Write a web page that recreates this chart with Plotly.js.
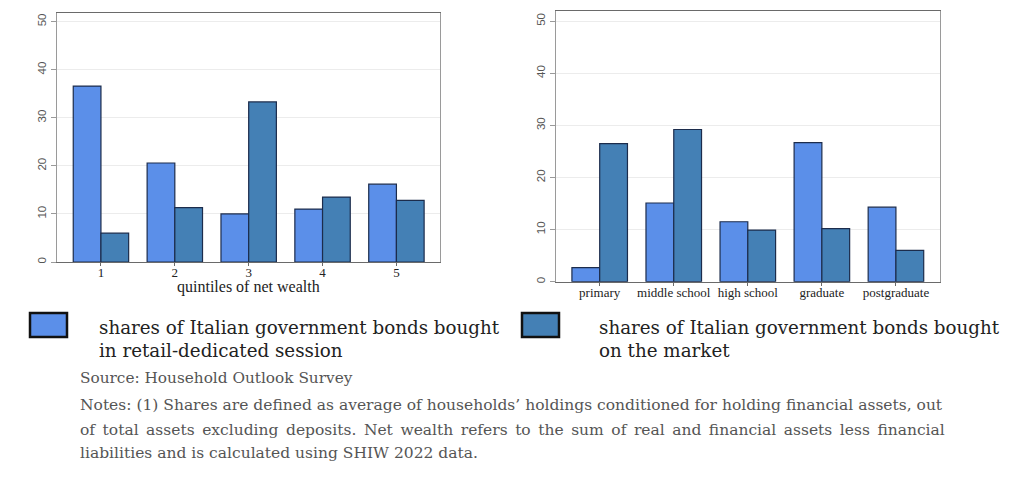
<!DOCTYPE html>
<html>
<head>
<meta charset="utf-8">
<script src="https://cdn.plot.ly/plotly-3.0.1.min.js"></script>
<style>
  html, body { margin: 0; padding: 0; background: #fff; }
  #plot { width: 1024px; height: 480px; }
</style>
</head>
<body>
<div id="plot"></div>
<script>
// values (percent)
const wealthQuintiles = ['1', '2', '3', '4', '5'];
const wealthRetail = [36.6, 20.6, 10.0, 11.0, 16.2];
const wealthMarket = [6.0, 11.3, 33.3, 13.5, 12.8];

const eduLevels = ['primary', 'middle school', 'high school', 'graduate', 'postgraduate'];
const eduRetail = [2.7, 15.1, 11.5, 26.7, 14.3];
const eduMarket = [26.5, 29.2, 9.9, 10.2, 6.0];

const yTicks = [0, 10, 20, 30, 40, 50];

const retailName = 'shares of Italian government bonds bought in retail-dedicated session';
const marketName = 'shares of Italian government bonds bought on the market';
const sourceText = 'Source: Household Outlook Survey';
const noteLines = [
    'Notes: (1) Shares are defined as average of households\u2019 holdings conditioned for holding financial assets, out',
    'of total assets excluding deposits. Net wealth refers to the sum of real and financial assets less financial',
    'liabilities and is calculated using SHIW 2022 data.',
];
// extra word spacing to mimic the justified paragraph
const noteSpacing = [0, 2.6, 0];

const lightBlue = '#5b8fe9';
const darkBlue = '#4480b5';
const barEdge = '#1c2c4c';

function runPlot() {
    var plotdiv = document.querySelector('#plot');
    var W = 1024, H = 480;
    var px = function (x) { return x / W; };
    var py = function (y) { return (H - y) / H; };

    function barTrace(x, y, color, name, axis) {
        return {
            x: x,
            y: y,
            type: 'bar',
            name: name,
            xaxis: 'x' + axis,
            yaxis: 'y' + axis,
            marker: { color: color, line: { color: barEdge, width: 1.2 } },
            showlegend: false,
            hoverinfo: 'x+y',
        };
    }

    var data = [
        barTrace(wealthQuintiles, wealthRetail, lightBlue, retailName, ''),
        barTrace(wealthQuintiles, wealthMarket, darkBlue, marketName, ''),
        barTrace(eduLevels, eduRetail, lightBlue, retailName, '2'),
        barTrace(eduLevels, eduMarket, darkBlue, marketName, '2'),
    ];

    var serif = 'Liberation Serif, Times New Roman, serif';
    var textSerif = 'DejaVu Serif, serif';

    function xAxis(domain, range, anchor) {
        return {
            domain: domain,
            anchor: anchor,
            type: 'category',
            range: range,
            showline: true,
            linecolor: '#6a6a6a',
            linewidth: 1.2,
            mirror: true,
            ticks: 'outside',
            ticklen: 3,
            tickcolor: '#6a6a6a',
            ticklabelstandoff: -5,
            showgrid: false,
            tickfont: { family: serif, size: 13, color: '#222' },
            fixedrange: true,
        };
    }

    function yAxis(domain, range, anchor) {
        return {
            domain: domain,
            anchor: anchor,
            range: range,
            tickvals: yTicks,
            ticktext: yTicks.map(String),
            tickangle: -90,
            showline: true,
            linecolor: '#9a9a9a',
            linewidth: 1.2,
            mirror: true,
            ticks: 'outside',
            ticklen: 5,
            tickcolor: '#9a9a9a',
            showgrid: true,
            gridcolor: '#ececec',
            gridwidth: 1,
            zeroline: false,
            tickfont: { family: 'Liberation Sans, Arial, sans-serif', size: 11.5, color: '#555' },
            fixedrange: true,
        };
    }

    var xaxis = xAxis([px(57), px(440)], [-0.595, 4.59], 'y');
    var yaxis = yAxis([py(262), py(13)], [0, 51.8], 'x');
    var xaxis2 = xAxis([px(556), px(940)], [-0.59, 4.595], 'y2');
    var yaxis2 = yAxis([py(281.7), py(10.7)], [0, 52.0], 'x2');

    var shapes = [];
    var annotations = [];

    // x title of the left panel, placed by hand
    annotations.push({
        xref: 'paper', yref: 'paper', x: px(248.5), y: py(287),
        xanchor: 'center', yanchor: 'middle', showarrow: false,
        text: 'quintiles of net wealth', font: { family: serif, size: 16, color: '#222' },
    });

    // hand-made legend: two boxes with two-line captions
    var legendItems = [
        { x0: 30, color: lightBlue, tx: 97, lines: ['shares of Italian government bonds bought', 'in retail-dedicated session'] },
        { x0: 522, color: darkBlue, tx: 597, lines: ['shares of Italian government bonds bought', 'on the market'] },
    ];
    legendItems.forEach(function (it) {
        shapes.push({
            type: 'rect', xref: 'paper', yref: 'paper',
            x0: px(it.x0), x1: px(it.x0 + 37), y0: py(337), y1: py(313),
            fillcolor: it.color, line: { color: '#111', width: 2.5 },
        });
        it.lines.forEach(function (t, i) {
            annotations.push({
                xref: 'paper', yref: 'paper', x: px(it.tx), y: py(327 + i * 23),
                xanchor: 'left', yanchor: 'middle', showarrow: false,
                text: t, font: { family: textSerif, size: 18.3, color: '#222' },
            });
        });
    });

    annotations.push({
        xref: 'paper', yref: 'paper', x: px(78), y: py(378),
        xanchor: 'left', yanchor: 'middle', showarrow: false,
        text: sourceText, font: { family: textSerif, size: 15.3, color: '#555' },
    });
    var noteY = [405, 430, 453];
    noteLines.forEach(function (t, i) {
        var txt = noteSpacing[i] ? '<span style="word-spacing:' + noteSpacing[i] + 'px">' + t + '</span>' : t;
        annotations.push({
            xref: 'paper', yref: 'paper', x: px(78), y: py(noteY[i]),
            xanchor: 'left', yanchor: 'middle', showarrow: false,
            text: txt, font: { family: textSerif, size: 15.5, color: '#555' },
        });
    });

    var layout = {
        width: W,
        height: H,
        margin: { l: 0, r: 0, t: 0, b: 0 },
        paper_bgcolor: '#fff',
        plot_bgcolor: '#fff',
        barmode: 'group',
        bargap: 0.25,
        bargroupgap: 0,
        showlegend: false,
        xaxis: xaxis,
        yaxis: yaxis,
        xaxis2: xaxis2,
        yaxis2: yaxis2,
        shapes: shapes,
        annotations: annotations,
    };

    var config = { displayModeBar: false, staticPlot: true };

    Plotly.newPlot(plotdiv, data, layout, config);
}

runPlot();
</script>
</body>
</html>
